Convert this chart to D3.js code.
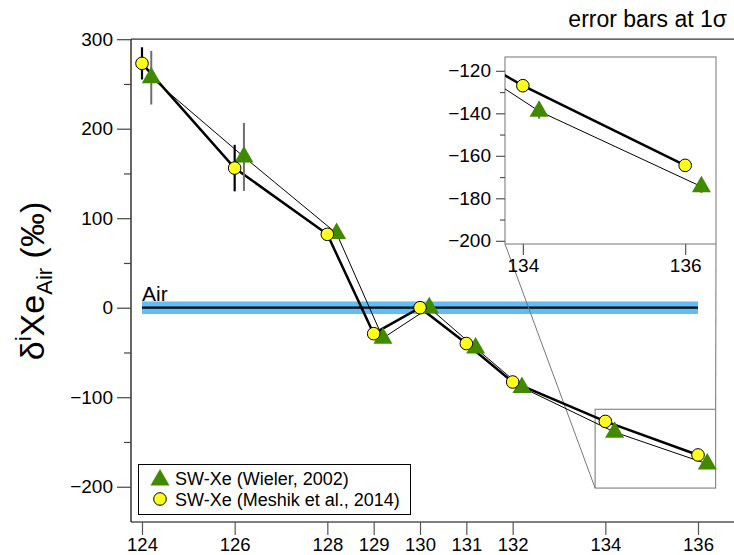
<!DOCTYPE html>
<html><head><meta charset="utf-8">
<script src="https://cdn.jsdelivr.net/npm/d3@7"></script>
<style>body{margin:0;background:#fff}svg{display:block}text{font-family:"Liberation Sans",Arial,Helvetica,sans-serif}</style>
</head><body><svg id="c" width="734" height="555"></svg>
<script>
// ---- data ----
const xTicks = [124, 126, 128, 129, 130, 131, 132, 134, 136];
const yTicksMajor = [-200, -100, 0, 100, 200, 300];
const yTicksMinor = [-150, -50, 50, 150, 250];
const meshikX = [124, 126, 128, 129, 130, 131, 132, 134, 136];
const meshikY = [273, 156, 82, -29, 0, -40, -83, -127, -164.5];
const meshikErr = [18, 26, 3, 3, 2, 2, 2, 2, 2];
const wielerX = [124.2, 126.2, 128.2, 129.2, 130.2, 131.2, 132.2, 134.2, 136.2];
const wielerY = [257, 168.5, 83, -34, 0, -45, -89, -139, -174.5];
const wielerErr = [30, 38, 5, 4, 4, 4, 4, 3.5, 3];
const airValue = 0, airHalfWidth = 7;
const airRange = [124, 136];
const insetXDomain = [133.78, 136.38];
const insetYDomain = [-201.5, -113.5];
const insetXTicks = [134, 136];
const insetYMajor = [-200, -180, -160, -140, -120];
const insetYMinor = [-190, -170, -150, -130];
const legendLabels = ["SW-Xe (Wieler, 2002)", "SW-Xe (Meshik et al., 2014)"];

const svg = d3.select("#c");
const L = 131, R = 734, T = 39.2, B = 522;
const x = d3.scaleLinear().domain([124, 136]).range([142, 698]);
const y = d3.scaleLinear().domain([-239.4, 300]).range([B, T]);

const meshik = meshikX.map((v, i) => ({x: v, y: meshikY[i], e: meshikErr[i]}));
const wieler = wielerX.map((v, i) => ({x: v, y: wielerY[i], e: wielerErr[i]}));
const triPath = "M0,-11L9.5,5.5L-9.5,5.5Z";
const green = "#418a00", yellow = "#ffff1a";
const FONT = '"Liberation Sans",Arial,sans-serif';

// title
svg.append("text").attr("x", 727).attr("y", 27).attr("text-anchor", "end")
  .attr("font-size", 23).text("error bars at 1σ");

// frame lines
svg.append("line").attr("x1", L).attr("x2", R).attr("y1", T).attr("y2", T).attr("stroke", "#333").attr("stroke-width", 1.2);
svg.append("line").attr("x1", L).attr("x2", R).attr("y1", B).attr("y2", B).attr("stroke", "#000").attr("stroke-width", 1.2);
svg.append("line").attr("x1", L).attr("x2", L).attr("y1", T).attr("y2", B).attr("stroke", "#000").attr("stroke-width", 1.2);

// y axis ticks
const yAxisMajor = d3.axisLeft(y).tickValues(yTicksMajor).tickSize(14).tickPadding(4)
  .tickFormat(d => d < 0 ? "\u2212" + Math.abs(d) : d);
const gy = svg.append("g").attr("transform", `translate(${L},0)`).call(yAxisMajor);
gy.select(".domain").remove();
gy.selectAll("line").attr("stroke", "#444").attr("stroke-width", 1.2);
gy.selectAll("text").attr("font-size", 19).attr("fill", "#000").attr("font-family", FONT);
const gym = svg.append("g").attr("transform", `translate(${L},0)`)
  .call(d3.axisLeft(y).tickValues(yTicksMinor).tickSize(7).tickFormat(""));
gym.select(".domain").remove();
gym.selectAll("line").attr("stroke", "#444").attr("stroke-width", 1.2);

// x axis
const gx = svg.append("g").attr("transform", `translate(0,${B})`)
  .call(d3.axisBottom(x).tickValues(xTicks).tickSize(13).tickPadding(3).tickFormat(d3.format("d")));
gx.select(".domain").remove();
gx.selectAll("line").attr("stroke", "#555").attr("stroke-width", 1.2);
gx.selectAll("text").attr("font-size", 18.5).attr("fill", "#000").attr("font-family", FONT);

// y label
const yl = svg.append("text").attr("transform", "translate(44,281) rotate(-90)")
  .attr("text-anchor", "middle").attr("font-size", 34);
yl.append("tspan").text("δ");
yl.append("tspan").attr("font-size", 22).attr("dy", -13).text("i");
yl.append("tspan").attr("dy", 13).text("Xe");
yl.append("tspan").attr("font-size", 22).attr("dy", 8).text("Air");
yl.append("tspan").attr("dy", -8).text(" (‰)");

// air band
svg.append("rect").attr("x", x(airRange[0])).attr("width", x(airRange[1]) - x(airRange[0]))
  .attr("y", y(airValue + airHalfWidth)).attr("height", y(airValue - airHalfWidth) - y(airValue + airHalfWidth))
  .attr("fill", "#62bcf5");
svg.append("line").attr("x1", x(airRange[0])).attr("x2", x(airRange[1]))
  .attr("y1", y(airValue)).attr("y2", y(airValue)).attr("stroke", "#000").attr("stroke-width", 2.2);
svg.append("text").attr("x", x(airRange[0])).attr("y", 301).attr("font-size", 21).text("Air");

function drawData(g, xs, ys) {
  const line = d3.line().x(d => xs(d.x)).y(d => ys(d.y));
  g.append("path").datum(wieler).attr("d", line).attr("fill", "none").attr("stroke", "#000").attr("stroke-width", 1);
  g.append("path").datum(meshik).attr("d", line).attr("fill", "none").attr("stroke", "#000").attr("stroke-width", 2.5);
  g.selectAll(null).data(wieler).join("line")
    .attr("x1", d => xs(d.x)).attr("x2", d => xs(d.x))
    .attr("y1", d => ys(d.y + d.e)).attr("y2", d => ys(d.y - d.e))
    .attr("stroke", "#6e6e6e").attr("stroke-width", 2);
  g.selectAll(null).data(wieler).join("path").attr("d", triPath)
    .attr("transform", d => `translate(${xs(d.x)},${ys(d.y)})`).attr("fill", green);
  g.selectAll(null).data(meshik).join("line")
    .attr("x1", d => xs(d.x)).attr("x2", d => xs(d.x))
    .attr("y1", d => ys(d.y + d.e)).attr("y2", d => ys(d.y - d.e))
    .attr("stroke", "#000").attr("stroke-width", 2.2);
  g.selectAll(null).data(meshik).join("circle")
    .attr("cx", d => xs(d.x)).attr("cy", d => ys(d.y)).attr("r", 6.3)
    .attr("fill", yellow).attr("stroke", "#000").attr("stroke-width", 1);
}

// zoom rect on main + connectors (drawn before data)
const ix = d3.scaleLinear().domain(insetXDomain).range([505, 716]);
const iy = d3.scaleLinear().domain(insetYDomain).range([244, 57]);
const zr = svg.append("g");
zr.append("rect").attr("x", x(insetXDomain[0])).attr("y", y(insetYDomain[1]))
  .attr("width", x(insetXDomain[1]) - x(insetXDomain[0])).attr("height", y(insetYDomain[0]) - y(insetYDomain[1]))
  .attr("fill", "none").attr("stroke", "#8a8a8a").attr("stroke-width", 1.2);
zr.append("line").attr("x1", x(insetXDomain[0])).attr("y1", y(insetYDomain[0]))
  .attr("x2", ix(insetXDomain[0])).attr("y2", iy(insetYDomain[0])).attr("stroke", "#777").attr("stroke-width", 1);
zr.append("line").attr("x1", x(insetXDomain[1])).attr("y1", y(insetYDomain[1]))
  .attr("x2", ix(insetXDomain[1])).attr("y2", iy(insetYDomain[0])).attr("stroke", "#8a8a8a").attr("stroke-width", 1.2);

// main data
drawData(svg.append("g"), x, y);

// inset
const ig = svg.append("g");
svg.append("defs").append("clipPath").attr("id", "insetClip").append("rect")
  .attr("x", 505).attr("y", 57).attr("width", 211).attr("height", 187);
ig.append("rect").attr("x", 505).attr("y", 57).attr("width", 211).attr("height", 187)
  .attr("fill", "#fff").attr("stroke", "#8a8a8a").attr("stroke-width", 1.2);
const iya = ig.append("g").attr("transform", "translate(505,0)")
  .call(d3.axisLeft(iy).tickValues(insetYMajor).tickSize(9).tickPadding(5)
    .tickFormat(d => d < 0 ? "\u2212" + Math.abs(d) : d));
iya.select(".domain").remove();
iya.selectAll("line").attr("stroke", "#555").attr("stroke-width", 1.2);
iya.selectAll("text").attr("font-size", 19).attr("fill", "#000").attr("font-family", FONT);
const iym = ig.append("g").attr("transform", "translate(505,0)")
  .call(d3.axisLeft(iy).tickValues(insetYMinor).tickSize(5).tickFormat(""));
iym.select(".domain").remove();
iym.selectAll("line").attr("stroke", "#555").attr("stroke-width", 1.2);
const ixa = ig.append("g").attr("transform", "translate(0,244)")
  .call(d3.axisBottom(ix).tickValues(insetXTicks).tickSize(11).tickPadding(4).tickFormat(d3.format("d")));
ixa.select(".domain").remove();
ixa.selectAll("line").attr("stroke", "#555").attr("stroke-width", 1.2);
ixa.selectAll("text").attr("font-size", 19).attr("fill", "#000").attr("font-family", FONT);
drawData(ig.append("g").attr("clip-path", "url(#insetClip)"), ix, iy);

// legend
const lgd = svg.append("g");
lgd.append("rect").attr("x", 138.5).attr("y", 464.5).attr("width", 272).attr("height", 50)
  .attr("fill", "#fff").attr("stroke", "#000").attr("stroke-width", 1);
lgd.append("path").attr("d", triPath).attr("transform", "translate(160,480)").attr("fill", green);
lgd.append("circle").attr("cx", 160).attr("cy", 499).attr("r", 6.3).attr("fill", yellow).attr("stroke", "#000");
lgd.selectAll(null).data(legendLabels).join("text")
  .attr("x", 175).attr("y", (d, i) => 484.5 + i * 21).attr("font-size", 18).text(d => d);
</script></body></html>
